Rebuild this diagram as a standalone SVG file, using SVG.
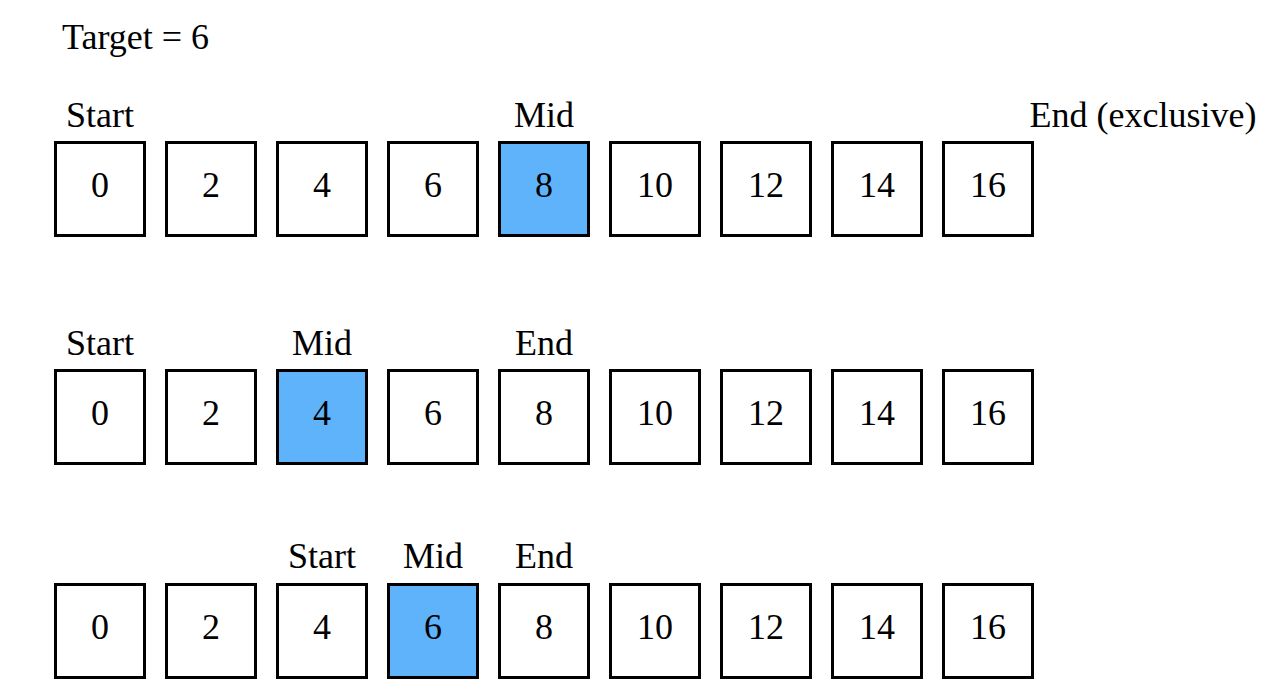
<svg xmlns="http://www.w3.org/2000/svg" width="1274" height="700" viewBox="0 0 1274 700">
<style>
text{font-family:"Liberation Serif","Times New Roman",serif;font-size:36px;fill:#000;text-anchor:middle}
.b{fill:#fff;stroke:#000;stroke-width:3}
.h{fill:#5fb3fb;stroke:#000;stroke-width:3}
</style>
<rect width="1274" height="700" fill="#fff"/>
<text x="62" y="49" style="text-anchor:start">Target = 6</text>
<g id="row1">
<text x="100" y="127">Start</text>
<text x="544" y="127">Mid</text>
<text x="1143" y="127">End (exclusive)</text>
<g id="r1n0"><rect class="b" x="55.5" y="142.5" width="89" height="93"/><text x="100" y="197">0</text></g>
<g id="r1n1"><rect class="b" x="166.5" y="142.5" width="89" height="93"/><text x="211" y="197">2</text></g>
<g id="r1n2"><rect class="b" x="277.5" y="142.5" width="89" height="93"/><text x="322" y="197">4</text></g>
<g id="r1n3"><rect class="b" x="388.5" y="142.5" width="89" height="93"/><text x="433" y="197">6</text></g>
<g id="r1n4"><rect class="h" x="499.5" y="142.5" width="89" height="93"/><text x="544" y="197">8</text></g>
<g id="r1n5"><rect class="b" x="610.5" y="142.5" width="89" height="93"/><text x="655" y="197">10</text></g>
<g id="r1n6"><rect class="b" x="721.5" y="142.5" width="89" height="93"/><text x="766" y="197">12</text></g>
<g id="r1n7"><rect class="b" x="832.5" y="142.5" width="89" height="93"/><text x="877" y="197">14</text></g>
<g id="r1n8"><rect class="b" x="943.5" y="142.5" width="89" height="93"/><text x="988" y="197">16</text></g>
</g>
<g id="row2">
<text x="100" y="355">Start</text>
<text x="322" y="355">Mid</text>
<text x="544" y="355">End</text>
<g id="r2n0"><rect class="b" x="55.5" y="370.5" width="89" height="93"/><text x="100" y="425">0</text></g>
<g id="r2n1"><rect class="b" x="166.5" y="370.5" width="89" height="93"/><text x="211" y="425">2</text></g>
<g id="r2n2"><rect class="h" x="277.5" y="370.5" width="89" height="93"/><text x="322" y="425">4</text></g>
<g id="r2n3"><rect class="b" x="388.5" y="370.5" width="89" height="93"/><text x="433" y="425">6</text></g>
<g id="r2n4"><rect class="b" x="499.5" y="370.5" width="89" height="93"/><text x="544" y="425">8</text></g>
<g id="r2n5"><rect class="b" x="610.5" y="370.5" width="89" height="93"/><text x="655" y="425">10</text></g>
<g id="r2n6"><rect class="b" x="721.5" y="370.5" width="89" height="93"/><text x="766" y="425">12</text></g>
<g id="r2n7"><rect class="b" x="832.5" y="370.5" width="89" height="93"/><text x="877" y="425">14</text></g>
<g id="r2n8"><rect class="b" x="943.5" y="370.5" width="89" height="93"/><text x="988" y="425">16</text></g>
</g>
<g id="row3">
<text x="322" y="568">Start</text>
<text x="433" y="568">Mid</text>
<text x="544" y="568">End</text>
<g id="r3n0"><rect class="b" x="55.5" y="584.5" width="89" height="93"/><text x="100" y="639">0</text></g>
<g id="r3n1"><rect class="b" x="166.5" y="584.5" width="89" height="93"/><text x="211" y="639">2</text></g>
<g id="r3n2"><rect class="b" x="277.5" y="584.5" width="89" height="93"/><text x="322" y="639">4</text></g>
<g id="r3n3"><rect class="h" x="388.5" y="584.5" width="89" height="93"/><text x="433" y="639">6</text></g>
<g id="r3n4"><rect class="b" x="499.5" y="584.5" width="89" height="93"/><text x="544" y="639">8</text></g>
<g id="r3n5"><rect class="b" x="610.5" y="584.5" width="89" height="93"/><text x="655" y="639">10</text></g>
<g id="r3n6"><rect class="b" x="721.5" y="584.5" width="89" height="93"/><text x="766" y="639">12</text></g>
<g id="r3n7"><rect class="b" x="832.5" y="584.5" width="89" height="93"/><text x="877" y="639">14</text></g>
<g id="r3n8"><rect class="b" x="943.5" y="584.5" width="89" height="93"/><text x="988" y="639">16</text></g>
</g>
<g id="connectors"/>
</svg>
